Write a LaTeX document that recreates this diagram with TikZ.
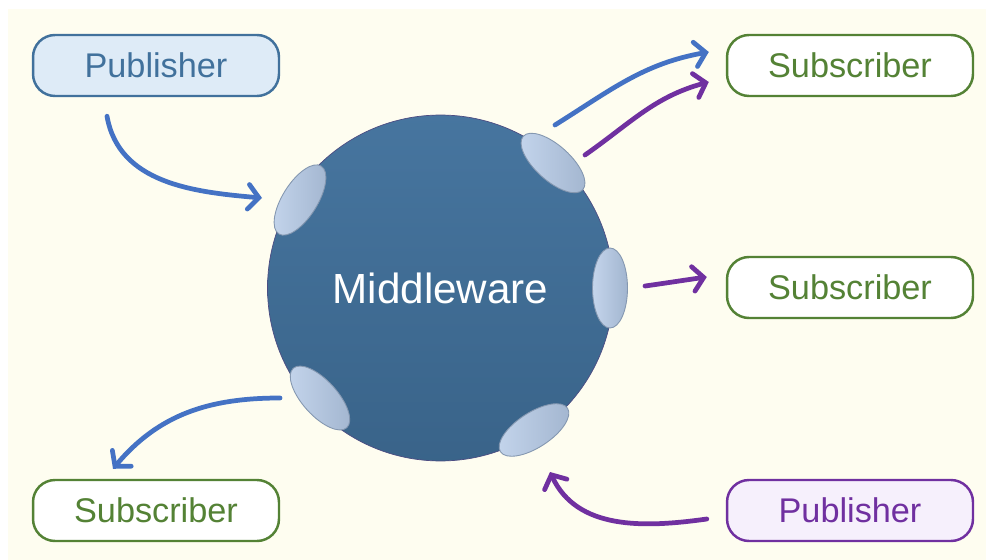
\documentclass[tikz,border=0pt]{standalone}
\usepackage{fontspec}
\setmainfont{Liberation Sans}
\usetikzlibrary{arrows.meta,shapes.geometric}

\definecolor{bg}{HTML}{FEFDF0}
\definecolor{pubblue}{HTML}{41719C}
\definecolor{pubfill}{HTML}{DEEBF7}
\definecolor{subgreen}{HTML}{548235}
\definecolor{pubpurple}{HTML}{7030A0}
\definecolor{purplefill}{HTML}{F6F0FC}
\definecolor{arrowblue}{HTML}{4472C4}
\definecolor{portlight}{HTML}{C4D5EC}
\definecolor{portdark}{HTML}{A2B5CF}
\definecolor{portedge}{HTML}{8497B0}

\begin{document}
\begin{tikzpicture}[x=0.02cm, y=-0.02cm,
    box/.style={rounded corners=0.44cm, line width=1.4pt, minimum width=4.92cm,
        minimum height=1.22cm, font=\fontsize{19.5}{23}\selectfont},
    pubbox/.style={box, draw=pubblue, fill=pubfill, text=pubblue},
    subbox/.style={box, draw=subgreen, fill=white, text=subgreen},
    pubbox2/.style={box, draw=pubpurple, fill=purplefill, text=pubpurple},
    port/.style={ellipse, draw=portedge, line width=0.5pt, inner sep=0pt,
        minimum width=1.6cm, minimum height=0.7cm,
        left color=portlight, right color=portdark},
    flow/.style={line width=2.7pt, line cap=round,
        -{Straight Barb[length=6pt, width=14pt, line cap=round]}}]

    \useasboundingbox (0,0) rectangle (986,560);
    \fill[white] (0,0) rectangle (986,560);
    \fill[bg] (8,9) rectangle (986,560);

    \node[circle, draw=blue!30!black!70, line width=0.4pt, minimum size=6.92cm,
        top color=pubblue!97!white, bottom color=pubblue!88!black, text=white,
        font=\fontsize{24}{28}\selectfont] (mw) at (440.5,288) {Middleware};

    \node[port, rotate=58] (p1) at (300,200) {};
    \node[port, rotate=-42] (p2) at (553,163) {};
    \node[port, rotate=90] (p3) at (610,288) {};
    \node[port, rotate=-48] (p4) at (320,398) {};
    \node[port, rotate=33] (p5) at (534,430) {};

    \node[pubbox] (pubA) at (156,65.5) {Publisher};
    \node[subbox] (subA) at (850,65.5) {Subscriber};
    \node[subbox] (subB) at (850,287.5) {Subscriber};
    \node[subbox] (subC) at (156,510.5) {Subscriber};
    \node[pubbox2] (pubB) at (850,510.5) {Publisher};

    \draw[flow, arrowblue] ([shift={(-49,19)}]pubA.south) to[out=-80, in=175] ([shift={(-38,-2)}]p1.center);
    \draw[flow, arrowblue] ([shift={(2,-38)}]p2.center) to[out=32, in=190] ([shift={(-17,-13.5)}]subA.west);
    \draw[flow, pubpurple] ([shift={(32,-8)}]p2.center) to[out=35, in=195] ([shift={(-17,16.5)}]subA.west);
    \draw[flow, pubpurple] ([shift={(35,-2)}]p3.center) to[out=8, in=188] ([shift={(-19,-10.5)}]subB.west);
    \draw[flow, arrowblue] ([shift={(-40,0)}]p4.center) to[out=180, in=50] ([shift={(-43,-10)}]subC.north);
    \draw[flow, pubpurple] ([shift={(-19,8.5)}]pubB.west) to[out=188, in=-65] ([shift={(16,42)}]p5.center);
\end{tikzpicture}
\end{document}
